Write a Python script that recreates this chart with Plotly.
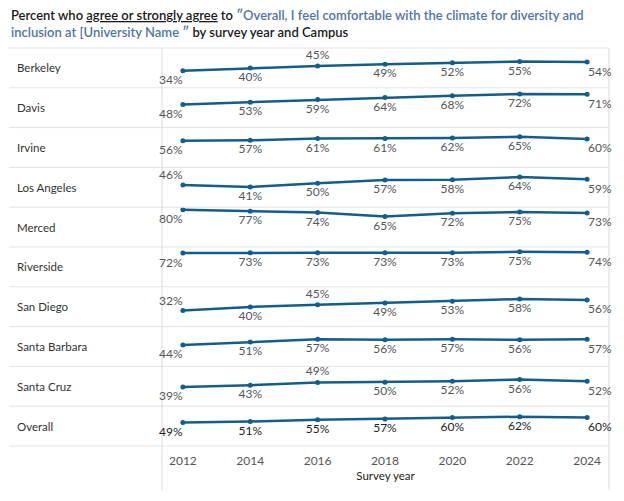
import plotly.graph_objects as go
from plotly.subplots import make_subplots

years = [2012, 2014, 2016, 2018, 2020, 2022, 2024]
campuses = ["Berkeley", "Davis", "Irvine", "Los Angeles", "Merced", "Riverside",
            "San Diego", "Santa Barbara", "Santa Cruz", "Overall"]
berkeley = [34, 40, 45, 49, 52, 55, 54]
davis = [48, 53, 59, 64, 68, 72, 71]
irvine = [56, 57, 61, 61, 62, 65, 60]
los_angeles = [46, 41, 50, 57, 58, 64, 59]
merced = [80, 77, 74, 65, 72, 75, 73]
riverside = [72, 73, 73, 73, 73, 75, 74]
san_diego = [32, 40, 45, 49, 53, 58, 56]
santa_barbara = [44, 51, 57, 56, 57, 56, 57]
santa_cruz = [39, 43, 49, 50, 52, 56, 52]
overall = [49, 51, 55, 57, 60, 62, 60]
series = [berkeley, davis, irvine, los_angeles, merced, riverside,
          san_diego, santa_barbara, santa_cruz, overall]

# which labels sit above their point (campus -> indices)
labels_above = {"Berkeley": [2], "Los Angeles": [0], "San Diego": [0, 2], "Santa Cruz": [2]}

W, H = 624, 501
ML, MR, MT, MB = 162, 15, 48, 55
PW = W - ML - MR
PH = H - MT - MB
LINE = "#135d8a"

n = len(campuses)
fig = make_subplots(rows=n, cols=1, shared_xaxes=True, vertical_spacing=0)

for i, (name, vals) in enumerate(zip(campuses, series)):
    above = labels_above.get(name, [])
    is_overall = name == "Overall"
    tcol = "#1e1e1e" if is_overall else "#555"
    pos = ["top center" if j in above else "bottom center" for j in range(len(vals))]
    txt = [f"{v}%" for v in vals]
    mid_txt = [t if 0 < j < len(vals) - 1 else "" for j, t in enumerate(txt)]
    fig.add_trace(go.Scatter(
        x=years, y=vals, mode="lines+markers+text",
        text=mid_txt, textposition=pos,
        textfont=dict(family="Lato", size=12, color=tcol),
        line=dict(color=LINE, width=2.5), marker=dict(color=LINE, size=5),
        cliponaxis=False, showlegend=False, hoverinfo="skip"), row=i + 1, col=1)
    # end labels: first sits to the left of its point, last to the right
    for j, anchor, xs in ((0, "right", 2), (len(vals) - 1, "left", -1)):
        up = j in above
        fig.add_annotation(x=years[j], y=vals[j], text=txt[j], showarrow=False,
                           xanchor=anchor, yanchor="middle",
                           xshift=xs, yshift=10 if up else -9,
                           font=dict(family="Lato", size=12, color=tcol),
                           row=i + 1, col=1)
    fig.update_yaxes(range=[-5, 86], showticklabels=False, showgrid=False,
                     zeroline=False, row=i + 1, col=1)
    fig.update_xaxes(range=[2011.38, 2024.65], showgrid=False, zeroline=False,
                     showticklabels=False, row=i + 1, col=1)
    yc = 1 - (i + 0.5) / n
    fig.add_annotation(text=name, xref="paper", yref="paper",
                       x=(15 - ML) / PW, y=yc, xanchor="left", yanchor="middle",
                       showarrow=False,
                       font=dict(family="Lato", size=11.5, color="#333"))

fig.update_xaxes(showticklabels=True, tickvals=years, ticktext=[str(y) for y in years],
                 tickfont=dict(family="Lato", size=12, color="#555"), ticks="",
                 ticklabelstandoff=6,
                 title=dict(text="Survey year", font=dict(family="Lato", size=11.5, color="#222"),
                            standoff=4),
                 row=n, col=1)

shapes = []
x_left = (9 - ML) / PW
for k in range(n + 1):
    shapes.append(dict(type="line", xref="paper", yref="paper", x0=x_left, x1=1,
                       y0=k / n, y1=k / n, line=dict(color="#e3e3e3", width=1)))
ybot = (MT + PH - 490) / PH
for xv in (0, 1):
    shapes.append(dict(type="line", xref="paper", yref="paper", x0=xv, x1=xv,
                       y0=ybot, y1=1, line=dict(color="#dadada", width=1)))

BLUE = "#4c76a3"
title = ("Percent who <u>agree or strongly agree</u> to "
         f"<span style='color:{BLUE}'>\u2033Overall, I feel comfortable with the climate for diversity and</span><br>"
         f"<span style='color:{BLUE}'>inclusion at [University Name \u2033</span> by survey year and Campus")
fig.add_annotation(text=title, xref="paper", yref="paper", x=(9 - ML) / PW,
                   y=1 + (MT - 5) / PH, xanchor="left", yanchor="top", align="left",
                   showarrow=False,
                   font=dict(family="Lato", size=13, color="#1a1a1a", weight=600))

fig.update_layout(width=W, height=H, margin=dict(l=ML, r=MR, t=MT, b=MB),
                  paper_bgcolor="white", plot_bgcolor="white", shapes=shapes,
                  font=dict(family="Lato"))

fig.write_html("out.html")
